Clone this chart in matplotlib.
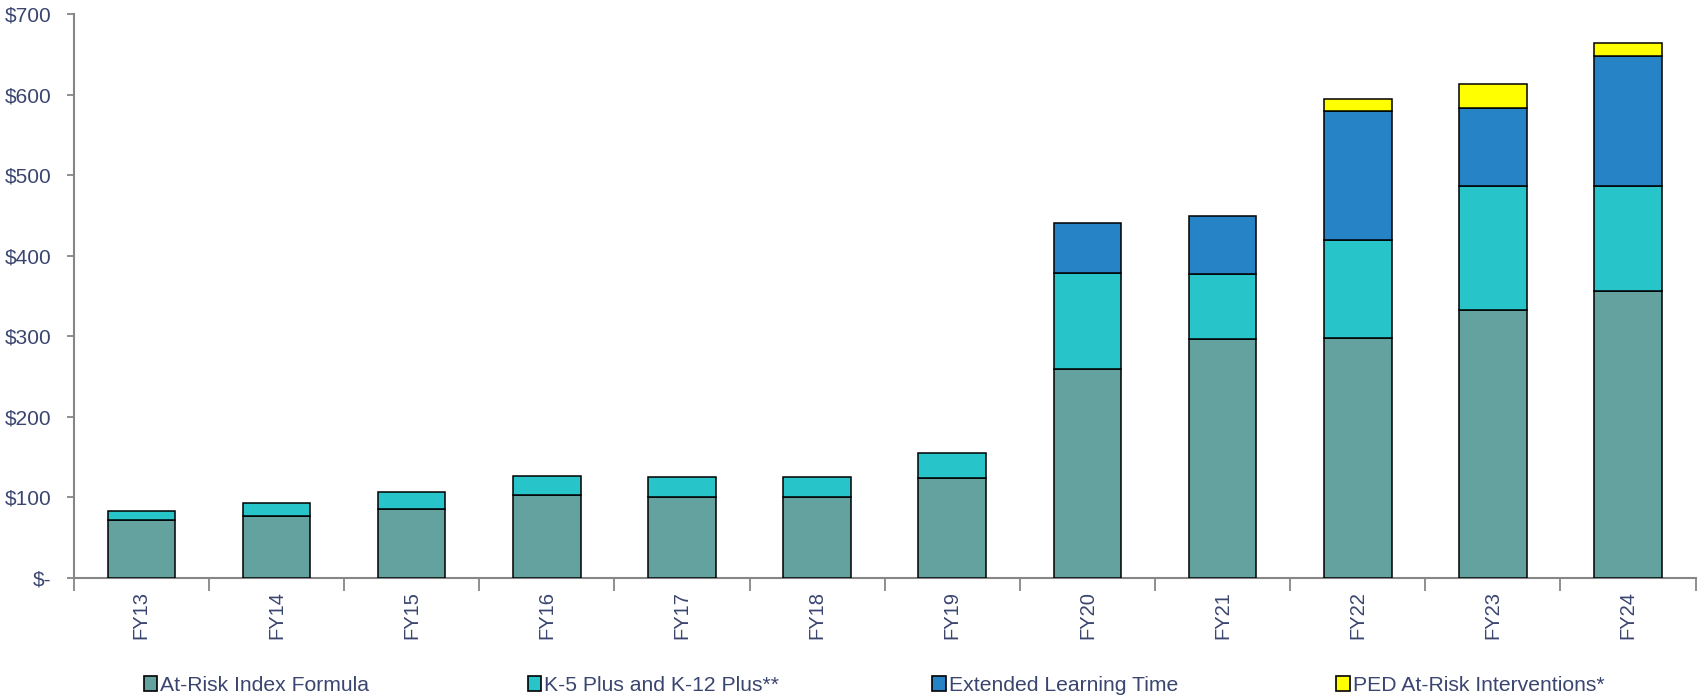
import numpy as np
import matplotlib.pyplot as plt
from matplotlib.patches import Patch
from matplotlib.ticker import FuncFormatter

years = ["FY13", "FY14", "FY15", "FY16", "FY17", "FY18",
         "FY19", "FY20", "FY21", "FY22", "FY23", "FY24"]

# values in $ millions
at_risk = np.array([72, 77, 86, 103, 101, 101, 124, 259, 296, 298, 332, 356])
k5_k12 = np.array([11, 16, 21, 24, 24, 24, 31, 120, 81, 121, 155, 130])
elt = np.array([0, 0, 0, 0, 0, 0, 0, 62, 72, 160, 96, 162])
ped = np.array([0, 0, 0, 0, 0, 0, 0, 0, 0, 16, 30, 16])

series_names = ["At-Risk Index Formula", "K-5 Plus and K-12 Plus**",
                "Extended Learning Time", "PED At-Risk Interventions*"]
colors = ["#63A29F", "#27C4CA", "#2683C6", "#FFFF00"]

text_col = "#3A4570"
axis_col = "#868686"


def main():
    plt.rcParams["font.family"] = ["Liberation Sans", "DejaVu Sans"]

    fig = plt.figure(figsize=(16.99, 6.98), dpi=100)
    ax = fig.add_axes([0.0434, 0.172, 0.9546, 0.808])

    x = np.arange(len(years))
    bottom = np.zeros(len(years))
    for vals, col in zip([at_risk, k5_k12, elt, ped], colors):
        m = vals > 0
        ax.bar(x[m], vals[m], width=0.5, bottom=bottom[m], color=col,
               edgecolor="black", linewidth=1.1, zorder=3)
        bottom = bottom + vals

    ax.set_xlim(-0.5, len(years) - 0.5)
    ax.set_ylim(0, 700)
    ax.set_yticks(np.arange(0, 701, 100))
    ax.yaxis.set_major_formatter(FuncFormatter(
        lambda v, p: "$-" if v == 0 else "${:.0f}".format(v)))

    ax.set_xticks(x)
    ax.set_xticklabels(years, rotation=90)
    ax.set_xticks(np.arange(-0.5, len(years), 1.0), minor=True)
    ax.tick_params(axis="x", which="major", length=0, pad=9.5,
                   labelsize=14.5, labelcolor=text_col)
    ax.tick_params(axis="x", which="minor", length=9, width=1.3,
                   color=axis_col, direction="out")
    ax.tick_params(axis="y", length=5, width=1.3, color=axis_col, pad=11,
                   labelsize=15, labelcolor=text_col)

    for s in ["top", "right"]:
        ax.spines[s].set_visible(False)
    for s in ["left", "bottom"]:
        ax.spines[s].set_color(axis_col)
        ax.spines[s].set_linewidth(1.5)

    # legend entries spread evenly along the bottom
    leg_x = [0.0845, 0.3105, 0.5485, 0.7865]
    for name, col, lx in zip(series_names, colors, leg_x):
        h = Patch(facecolor=col, edgecolor="black", linewidth=1.2)
        leg = fig.legend([h], [name], loc="center left",
                         bbox_to_anchor=(lx, 0.018), frameon=False,
                         fontsize=15.2, handlelength=0.65, handleheight=0.65,
                         handletextpad=0.15, borderpad=0, borderaxespad=0)
        for t in leg.get_texts():
            t.set_color(text_col)

    fig.savefig("out.png", dpi=100)


if __name__ == '__main__':
    main()
